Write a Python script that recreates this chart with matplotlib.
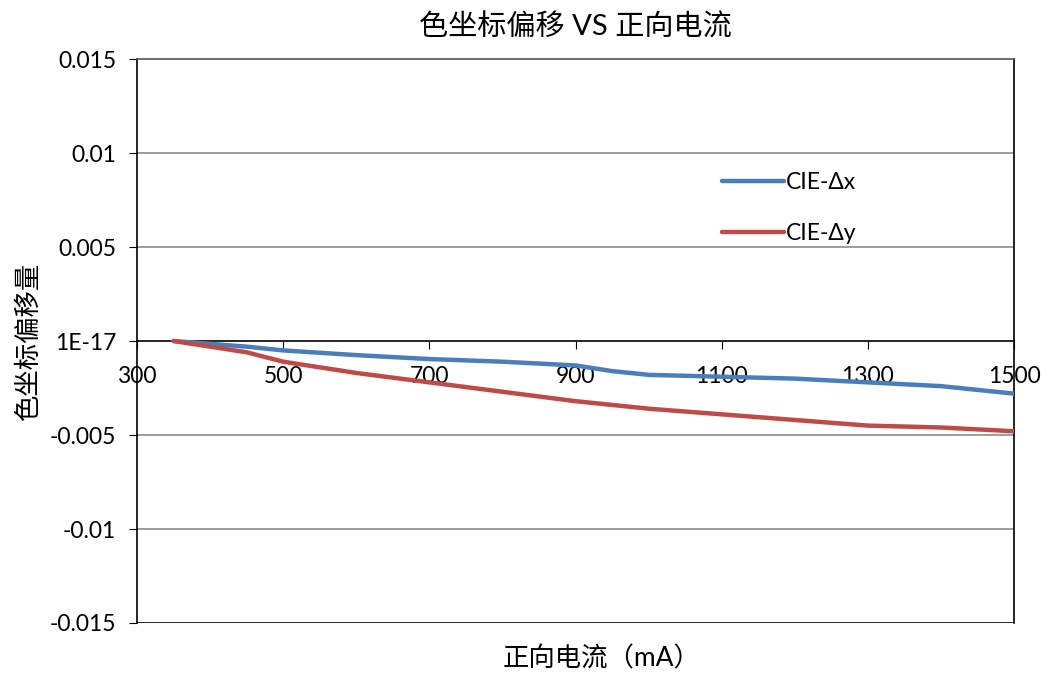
import matplotlib
matplotlib.use("Agg")
import matplotlib.pyplot as plt

plt.rcParams['font.family'] = ['Lato', 'Noto Sans CJK SC', 'DejaVu Sans']

# forward current (mA)
current = [350, 450, 500, 600, 700, 800, 900, 950, 1000, 1100, 1200, 1300, 1400, 1500]
# CIE chromaticity shift
delta_x = [0, -0.0003, -0.0005, -0.00075, -0.00096, -0.0011, -0.0013, -0.0016,
           -0.0018, -0.0019, -0.002, -0.0022, -0.0024, -0.0028]
delta_y = [0, -0.0006, -0.0011, -0.0017, -0.0022, -0.0027, -0.0032, -0.0034,
           -0.0036, -0.0039, -0.0042, -0.0045, -0.0046, -0.0048]

x_ticks = [300, 500, 700, 900, 1100, 1300, 1500]
y_ticks = [-0.015, -0.01, -0.005, 0, 0.005, 0.01, 0.015]
y_labels = ["-0.015", "-0.01", "-0.005", "1E-17", "0.005", "0.01", "0.015"]

fig = plt.figure(figsize=(10.47, 6.73), dpi=100)
ax = fig.add_axes([0.1309, 0.0743, 0.8376, 0.838])

for y in y_ticks[1:-1]:
    if y != 0:
        ax.axhline(y, color="#8c8c8c", lw=1.2, zorder=1)

ax.plot(current, delta_x, color="#4A7EBB", lw=3.2, label="CIE-\u0394x", zorder=3,
        solid_capstyle="round", solid_joinstyle="round")
ax.plot(current, delta_y, color="#BE4B48", lw=3.2, label="CIE-\u0394y", zorder=3,
        solid_capstyle="round", solid_joinstyle="round")

ax.set_xlim(300, 1500)
ax.set_ylim(-0.015, 0.015)
ax.set_xticks(x_ticks)
ax.set_yticks(y_ticks)
ax.set_yticklabels(y_labels)

ax.spines['bottom'].set_position(('data', 0))
ax.axhline(-0.015, color="black", lw=1.2, zorder=2)
for s in ax.spines.values():
    s.set_color("black")
    s.set_linewidth(1.2)
ax.spines['top'].set_color("#555555")

ax.tick_params(axis='x', direction='out', length=6, labelsize=16.5, pad=12)
ax.tick_params(axis='y', direction='out', length=6, labelsize=16.5, pad=9)

ax.set_title("色坐标偏移 VS 正向电流", fontsize=21, pad=17)
ax.set_ylabel("色坐标偏移量", fontsize=19, labelpad=6)
fig.text(0.575, 0.01, "正向电流（mA）", ha="center", fontsize=19)

ax.legend(loc="upper left", bbox_to_anchor=(0.644, 0.836), frameon=False,
          fontsize=16.5, handlelength=2.7, handletextpad=0.08, labelspacing=1.3)

fig.savefig("out.png", dpi=100)
